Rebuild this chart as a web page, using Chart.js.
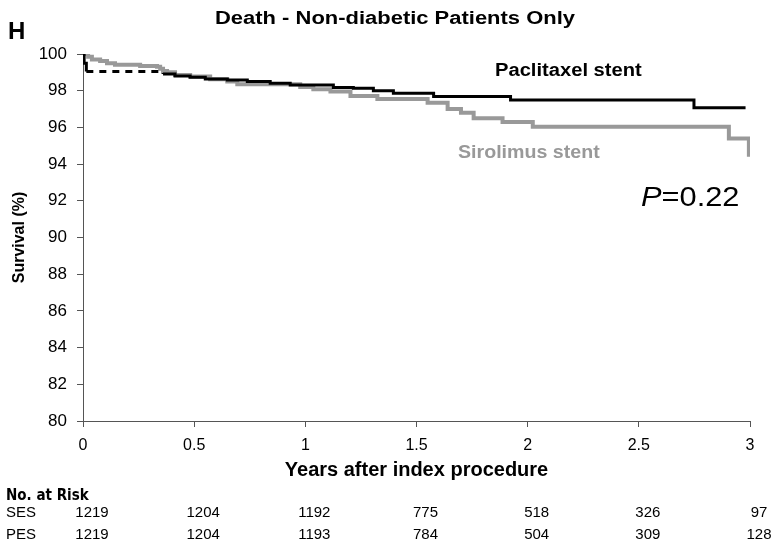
<!DOCTYPE html>
<html>
<head>
<meta charset="utf-8">
<script src="https://cdn.jsdelivr.net/npm/chart.js@4.4.1/dist/chart.umd.min.js"></script>
<style>
    body { margin: 0; background: #fff; font-family: "Liberation Sans", Arial, sans-serif; }
    #wrap { position: relative; width: 778px; height: 548px; overflow: hidden; }
    #chart { position: absolute; left: 0; top: 0; }
    .txt { position: absolute; white-space: nowrap; line-height: 1; transform-origin: left top; }
    .narrow { font-family: "Liberation Sans Narrow", "DejaVu Sans Condensed", "Liberation Sans", sans-serif; }
    .risk { position: absolute; white-space: nowrap; line-height: 1; font-size: 15px; transform: translateX(-50%); }
</style>
</head>
<body>
<div id="wrap">
    <canvas id="chart" width="778" height="548"></canvas>
    <div class="txt" style="left:8px; top:19px; font-size:24px; font-weight:bold;">H</div>
    <div class="txt" style="left:215px; top:9px; font-size:18px; font-weight:bold; transform:scaleX(1.22);">Death - Non-diabetic Patients Only</div>
    <div class="txt" style="left:495px; top:61px; font-size:18px; font-weight:bold; color:#000; transform:scaleX(1.12);">Paclitaxel stent</div>
    <div class="txt" style="left:458px; top:143px; font-size:18px; font-weight:bold; color:#999; transform:scaleX(1.09);">Sirolimus stent</div>
    <div class="txt" style="left:641px; top:183px; font-size:28px; transform:scaleX(1.1);"><i>P</i>=0.22</div>
    <div class="txt narrow" style="left:6px; top:488px; font-size:15px; font-weight:bold;">No. at Risk</div>
    <div id="riskTable"></div>
</div>
<script>
// Kaplan-Meier steps (years, survival %)
const pesYears    = [0, 0.005, 0.015, 0.36, 0.414, 0.482, 0.55, 0.649, 0.739, 0.842, 0.932, 1.126, 1.216, 1.306, 1.396, 1.577, 1.923, 2.748, 2.98];
const pesSurvival = [100, 99.5, 99.04, 98.91, 98.80, 98.73, 98.64, 98.58, 98.50, 98.40, 98.31, 98.18, 98.13, 98.00, 97.86, 97.69, 97.50, 97.07, 97.07];

const sesYears    = [0, 0.023, 0.04, 0.077, 0.108, 0.144, 0.257, 0.333, 0.347, 0.36, 0.378, 0.414, 0.482, 0.572, 0.649, 0.694, 0.977, 1.036, 1.113, 1.203, 1.324, 1.55, 1.64, 1.70, 1.757, 1.887, 2.023, 2.905, 2.995, 2.995];
const sesSurvival = [100, 99.85, 99.70, 99.62, 99.50, 99.42, 99.35, 99.30, 99.20, 99.08, 99.00, 98.86, 98.77, 98.62, 98.50, 98.35, 98.20, 98.08, 97.95, 97.71, 97.55, 97.35, 97.00, 96.80, 96.50, 96.30, 96.04, 95.40, 95.40, 94.40];

const xTickLabels = ['0', '0.5', '1', '1.5', '2', '2.5', '3'];
const yTickLabels = ['80', '82', '84', '86', '88', '90', '92', '94', '96', '98', '100'];

const riskYears = [0, 0.5, 1, 1.5, 2, 2.5, 3];
const sesAtRisk = [1219, 1204, 1192, 775, 518, 326, 97];
const pesAtRisk = [1219, 1204, 1193, 784, 504, 309, 128];

const toPoints = (xs, ys) => xs.map((x, i) => ({ x: x, y: ys[i] }));

function renderRiskTable(chart) {
    const xScale = chart.scales.x;
    const rows = [['SES', sesAtRisk, 504], ['PES', pesAtRisk, 526]];
    let html = '';
    rows.forEach(([name, counts, top]) => {
        html += `<div class="txt" style="left:6px; top:${top}px; font-size:15px;">${name}</div>`;
        counts.forEach((n, i) => {
            const px = xScale.getPixelForValue(riskYears[i]) + 9;
            html += `<div class="risk" style="left:${px}px; top:${top}px;">${n}</div>`;
        });
    });
    document.getElementById('riskTable').innerHTML = html;
}

const ctx = document.getElementById('chart').getContext('2d');
new Chart(ctx, {
    type: 'line',
    data: {
        datasets: [
            {
                label: 'Paclitaxel stent',
                data: toPoints(pesYears, pesSurvival),
                borderColor: '#000',
                borderWidth: 3,
                stepped: true,
                pointRadius: 0,
                order: 0,
                segment: {
                    borderDash: c => (c.p0.parsed.x < 0.3 && c.p0.parsed.x > 0.01) ? [7, 6] : undefined
                }
            },
            {
                label: 'Sirolimus stent',
                data: toPoints(sesYears, sesSurvival),
                borderColor: '#999',
                borderWidth: 4,
                stepped: true,
                pointRadius: 0,
                order: 1
            }
        ]
    },
    options: {
        responsive: false,
        animation: false,
        layout: { padding: { left: 0, top: 54, right: 28, bottom: 63 } },
        plugins: {
            legend: { display: false },
            tooltip: { enabled: false }
        },
        scales: {
            x: {
                type: 'linear',
                min: 0,
                max: 3,
                afterFit: s => { s.height = 64; },
                ticks: {
                    stepSize: 0.5,
                    maxRotation: 0,
                    padding: 9,
                    color: '#000',
                    font: { family: '"Liberation Sans", Arial, sans-serif', size: 16 },
                    callback: (v, i) => xTickLabels[i]
                },
                grid: { drawOnChartArea: false, tickLength: 6, color: '#555' },
                border: { color: '#555', width: 1 },
                title: {
                    display: true,
                    text: 'Years after index procedure',
                    color: '#000',
                    padding: { top: 0, bottom: 3 },
                    font: { family: '"Liberation Sans", Arial, sans-serif', size: 20, weight: 'bold' }
                }
            },
            y: {
                min: 80,
                max: 100,
                afterFit: s => { s.width = 83; },
                ticks: {
                    stepSize: 2,
                    padding: 10,
                    color: '#000',
                    font: { family: '"Liberation Sans", Arial, sans-serif', size: 17 },
                    callback: (v, i) => yTickLabels[i]
                },
                grid: { drawOnChartArea: false, tickLength: 6, color: '#555' },
                border: { color: '#555', width: 1 },
                title: {
                    display: true,
                    text: 'Survival (%)',
                    color: '#000',
                    padding: { top: 10, bottom: 0 },
                    font: { family: '"Liberation Sans", Arial, sans-serif', size: 16, weight: 'bold' }
                }
            }
        }
    },
    plugins: [{ id: 'riskTable', afterRender: renderRiskTable }]
});
</script>
</body>
</html>
